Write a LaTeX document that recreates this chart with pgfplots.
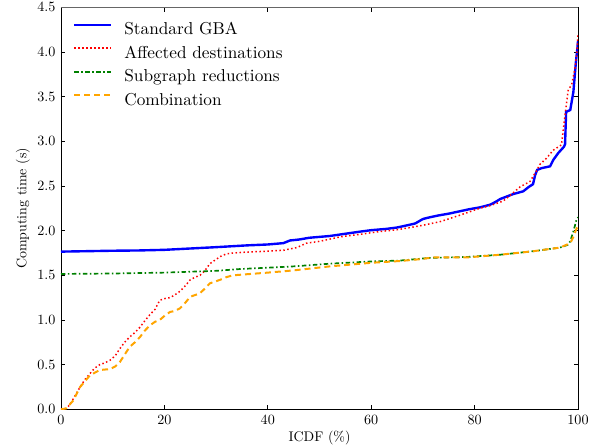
\documentclass[border=0pt]{standalone}
\usepackage{fontspec}
\setmainfont{lmroman10-regular.otf}
\usepackage{pgfplots}
\pgfplotsset{compat=1.18}
\definecolor{mplorange}{RGB}{255,165,0}
\definecolor{mplgreen}{RGB}{0,128,0}
\begin{document}
\begin{tikzpicture}[x=1bp,y=1bp]
\path[use as bounding box] (-61bp,-38.7bp) rectangle (542bp,409.3bp);
\begin{axis}[
  scale only axis, width=517bp, height=402bp,
  at={(0,0)}, anchor=south west,
  xmin=0, xmax=100, ymin=0, ymax=4.5,
  xtick={0,20,40,60,80,100},
  ytick={0,0.5,1,1.5,2,2.5,3,3.5,4,4.5},
  /pgf/number format/assume math mode=true,
  yticklabel style={xshift=-2bp, /pgf/number format/.cd, fixed, fixed zerofill, precision=1},
  tick align=inside, tick pos=both,
  major tick length=4.5bp,
  tick style={black, line width=0.8pt},
  axis line style={black, line width=0.9pt},
  ticklabel style={font=\fontsize{14.2}{17}\selectfont},
  xticklabel style={yshift=-2.5bp},
  xlabel={ICDF (\%)}, ylabel={Computing time (s)},
  label style={font=\fontsize{14}{17}\selectfont},
  xlabel style={at={([yshift=-32.5bp]rel axis cs:0.5,0)}, anchor=base},
  ylabel style={at={([xshift=-34.5bp]rel axis cs:0,0.5)}, anchor=base},
  legend style={draw=none, fill=none, inner sep=0pt, outer sep=0pt,
    at={(rel axis cs:0,1)}, anchor=north west, xshift=12bp, yshift=-14.8bp,
    font=\fontsize{17.3}{20}\selectfont, row sep=6.3bp, column sep=12bp,
    nodes={inner sep=0pt, text height=12.9bp, text depth=4.3bp}},
  legend cell align=left,
  legend image code/.code={\draw[#1] (0bp,6bp) -- (37bp,6bp);},
  clip=true,
]
\addplot[blue, line width=2.4pt] coordinates {
(0,1.765) (5,1.77) (10,1.775) (15,1.778) (20,1.785) (25,1.80) (30,1.815) (33,1.825) (36,1.835) (40,1.845) (42,1.855) (43,1.86) (44.3,1.89) (46,1.90) (48,1.92) (50,1.93) (52,1.94) (55,1.965) (58,1.99) (60,2.005) (63,2.02) (65,2.035) (67,2.06) (68.5,2.08) (70,2.13) (71,2.145) (73,2.17) (75,2.19) (77,2.215) (79,2.24) (81,2.26) (83,2.29) (84,2.32) (85,2.355) (87.5,2.41) (89.4,2.44) (90.5,2.49) (91.3,2.52) (91.7,2.62) (92.1,2.68) (93,2.70) (94.6,2.72) (95.2,2.79) (96.2,2.87) (97.3,2.94) (97.5,2.97) (97.7,3.33) (98.5,3.35) (99.1,3.55) (99.6,3.89) (99.9,4.05) (100,4.12)
};
\addlegendentry{Standard GBA}
\addplot[red, line width=1.5pt, dash pattern=on 1.5pt off 2.5pt] coordinates {
(0,0) (1,0.01) (1.7,0.05) (2.7,0.15) (3.7,0.25) (4.6,0.33) (5.6,0.40) (6.5,0.46) (7.5,0.50) (8.5,0.52) (9.5,0.55) (10.5,0.60) (11.4,0.68) (12.3,0.75) (13.3,0.81) (14.3,0.86) (15.3,0.92) (16.2,0.99) (17.2,1.06) (18.2,1.12) (19.1,1.22) (20.1,1.24) (21.1,1.25) (22,1.28) (23,1.32) (24,1.38) (25,1.45) (26,1.48) (26.9,1.50) (27.8,1.55) (28.8,1.63) (29.8,1.67) (30.8,1.71) (32,1.74) (33.3,1.75) (36,1.76) (40,1.77) (43,1.78) (45.6,1.81) (47.5,1.86) (50,1.88) (54,1.93) (58,1.96) (61.7,1.99) (65,2.01) (68.1,2.04) (70,2.06) (73.3,2.10) (77,2.17) (81,2.25) (83,2.28) (85.5,2.33) (87,2.40) (88.8,2.49) (90.7,2.55) (92.1,2.68) (92.6,2.74) (93.9,2.81) (95.2,2.90) (96.8,2.96) (97.8,3.44) (98.1,3.57) (98.8,3.64) (99.4,3.81) (99.8,4.0) (100,4.2)
};
\addlegendentry{Affected destinations}
\addplot[mplgreen, line width=1.7pt, dash pattern=on 4.5pt off 2.5pt on 1.5pt off 2.5pt] coordinates {
(0,1.515) (10,1.52) (20,1.53) (30,1.55) (34.6,1.57) (40,1.585) (45,1.60) (52,1.63) (60,1.655) (65.6,1.665) (71.4,1.695) (78.5,1.705) (84.9,1.73) (91.4,1.77) (96.5,1.81) (98,1.84) (98.5,1.88) (99.1,1.99) (99.7,2.12) (100,2.15)
};
\addlegendentry{Subgraph reductions}
\addplot[mplorange, line width=2pt, dash pattern=on 6pt off 4pt] coordinates {
(0,0) (1,0.01) (2.4,0.10) (3.7,0.25) (5.6,0.38) (7.5,0.44) (9.5,0.45) (10.5,0.48) (11.4,0.53) (12.4,0.62) (13.3,0.70) (14.3,0.75) (15.3,0.81) (16.2,0.88) (17.2,0.94) (18.2,0.98) (19.1,1.00) (20.1,1.05) (21.1,1.09) (22,1.10) (23,1.13) (24,1.19) (25,1.26) (26,1.28) (26.9,1.30) (27.8,1.35) (28.8,1.41) (29.8,1.43) (30.8,1.45) (32,1.48) (33.3,1.50) (40,1.53) (45,1.555) (52,1.60) (60,1.64) (65.6,1.66) (69.4,1.68) (72,1.70) (78.5,1.70) (84.9,1.73) (91.4,1.77) (96.5,1.81) (98.5,1.86) (99.1,1.93) (99.7,2.02) (100,2.05)
};
\addlegendentry{Combination}
\draw[black!60, line width=1.2pt] (rel axis cs:0,1) -- (rel axis cs:1,1);
\end{axis}
\end{tikzpicture}
\end{document}
